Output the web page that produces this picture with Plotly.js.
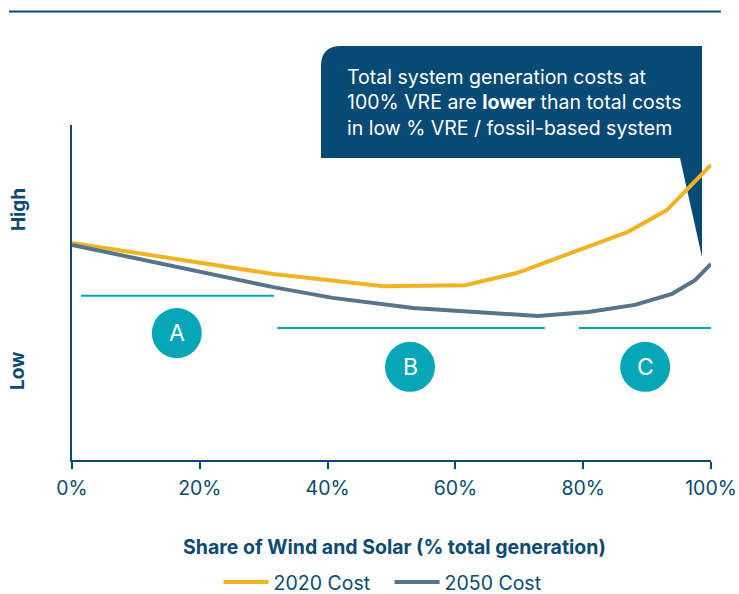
<!DOCTYPE html>
<html>
<head>
<meta charset="utf-8">
<script src="https://cdn.plot.ly/plotly-3.0.1.min.js"></script>
<style>
  body { margin: 0; background: #fff; }
  #chart { width: 739px; height: 594px; }
</style>
</head>
<body>
<div id="chart"></div>
<script>
// share of wind and solar (%) and relative cost (0-100 index)
var share2020 = [0, 31.5, 48.7, 61.5, 69.6, 87.0, 93.1, 100];
var cost2020 = [64.8, 55.5, 51.9, 52.2, 55.8, 68.1, 74.6, 88.1];

var share2050 = [0, 31.5, 40.8, 51.3, 53.4, 72.9, 80.8, 88.1, 93.9, 97.5, 100];
var cost2050 = [64.2, 51.6, 48.4, 46.0, 45.4, 43.0, 44.2, 46.3, 49.6, 53.7, 58.5];

var xTicks = [0, 20, 40, 60, 80, 100];
var xTickText = xTicks.map(function (v) { return v + '%'; });

// phases A / B / C
var segLabels = ['A', 'B', 'C'];
var segStart = [1.4, 32.1, 79.3];
var segEnd = [31.6, 74.0, 100];
var segLevel = [49.0, 39.4, 39.4];
var segMid = [16.4, 52.9, 89.7];
var badgeLevel = [37.9, 27.8, 27.8];

var navy = '#0b4a72';
var teal = '#05a6b5';
var font = 'Inter, Roboto, sans-serif';

var trace1 = {
    x: share2020,
    y: cost2020,
    mode: 'lines',
    type: 'scatter',
    name: '2020 Cost',
    line: {color: '#f0b323', width: 4},
    hoverinfo: 'skip'
};

var trace2 = {
    x: share2050,
    y: cost2050,
    mode: 'lines',
    type: 'scatter',
    name: '2050 Cost',
    line: {color: '#56758a', width: 4},
    hoverinfo: 'skip'
};

var shapes = [];
var annotations = [];

// rule at the top
shapes.push({type: 'line', xref: 'paper', yref: 'paper', x0: -0.0986, x1: 1.0156, y0: 1.3388, y1: 1.3388,
    line: {color: navy, width: 2}});

// callout bubble with pointer
shapes.push({type: 'path', xref: 'paper', yref: 'paper', layer: 'below',
    path: 'M 0.3897,0.9015 L 0.3897,1.176 Q 0.3897,1.2358 0.421,1.2358 L 0.9859,1.2358 L 0.9859,0.606 L 0.9515,0.9015 Z',
    fillcolor: '#064a75', line: {width: 0}});

annotations.push({xref: 'paper', yref: 'paper', x: 0.428, y: 1.185, xanchor: 'left', yanchor: 'top',
    align: 'left', showarrow: false,
    text: 'Total system generation costs at<br>100% VRE are <b>lower</b> than total costs<br>in low % VRE / fossil-based system',
    font: {family: font, size: 19.5, color: '#ffffff'}});

for (var i = 0; i < segLabels.length; i++) {
    shapes.push({type: 'line', x0: segStart[i], x1: segEnd[i], y0: segLevel[i], y1: segLevel[i],
        line: {color: teal, width: 2}});
    shapes.push({type: 'circle', xsizemode: 'pixel', ysizemode: 'pixel',
        xanchor: segMid[i], yanchor: badgeLevel[i], x0: -25, x1: 25, y0: -25, y1: 25,
        fillcolor: teal, line: {width: 0}});
    annotations.push({x: segMid[i], y: badgeLevel[i], text: segLabels[i], showarrow: false,
        font: {family: font, size: 23, color: '#ffffff'}});
}

// axis words
annotations.push({xref: 'paper', yref: 'paper', x: -0.0845, y: 0.746, xanchor: 'center', yanchor: 'middle',
    text: '<b>High</b>', textangle: -90, showarrow: false, font: {family: font, size: 19, color: navy}});
annotations.push({xref: 'paper', yref: 'paper', x: -0.0845, y: 0.266, xanchor: 'center', yanchor: 'middle',
    text: '<b>Low</b>', textangle: -90, showarrow: false, font: {family: font, size: 19, color: navy}});
annotations.push({xref: 'paper', yref: 'paper', x: 0.504, y: -0.26, xanchor: 'center', yanchor: 'middle',
    text: '<b>Share of Wind and Solar (% total generation)</b>',
    showarrow: false, font: {family: font, size: 19.5, color: navy}});

var layout = {
    width: 739,
    height: 594,
    margin: {l: 72, r: 28, t: 125, b: 134, autoexpand: false},
    paper_bgcolor: '#ffffff',
    plot_bgcolor: 'rgba(0,0,0,0)',
    font: {family: font, color: navy},
    showlegend: true,
    legend: {orientation: 'h', x: 0.497, y: -0.365, xanchor: 'center', yanchor: 'middle',
        font: {family: font, size: 19.5, color: navy}, itemwidth: 45, entrywidth: 111},
    xaxis: {
        range: [0, 100],
        tickvals: xTicks,
        ticktext: xTickText,
        ticks: 'outside',
        ticklen: 7,
        tickwidth: 2,
        tickcolor: navy,
        showline: true,
        linecolor: navy,
        linewidth: 2,
        showgrid: false,
        zeroline: false,
        ticklabelstandoff: 3,
        tickfont: {family: font, size: 19.5, color: navy}
    },
    yaxis: {
        range: [0, 100],
        showline: true,
        linecolor: navy,
        linewidth: 2,
        showgrid: false,
        zeroline: false,
        showticklabels: false,
        ticks: ''
    },
    shapes: shapes,
    annotations: annotations
};

Plotly.newPlot('chart', [trace1, trace2], layout, {displayModeBar: false});
</script>
</body>
</html>
